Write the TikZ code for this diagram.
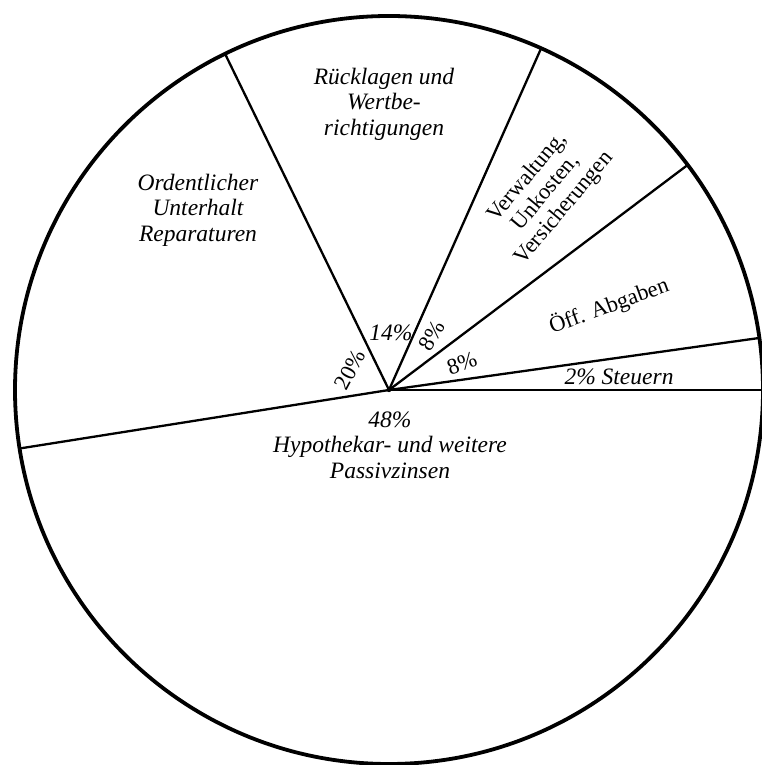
\documentclass[tikz,border=0pt]{standalone}
\usepackage{fontspec}
\setmainfont{Liberation Serif}
\begin{document}
\begin{tikzpicture}[x=1pt,y=1pt,
  rim/.style={circle,draw,line width=3.8pt,minimum size=748pt,inner sep=0pt,outer sep=0pt},
  spoke/.style={line width=2.3pt},
  lab/.style={font=\fontsize{23.5}{25.5}\selectfont\itshape,align=center,inner sep=0pt},
  labup/.style={font=\fontsize{22.5}{24}\selectfont,align=center,inner sep=0pt}]
\useasboundingbox (0,0) rectangle (762,765);
\node[rim] (pie) at (389,375) {};
\draw[spoke] (pie.center) -- (pie.0);
\draw[spoke] (pie.center) -- (pie.8);
\draw[spoke] (pie.center) -- (pie.37);
\draw[spoke] (pie.center) -- (pie.66);
\draw[spoke] (pie.center) -- (pie.116);
\draw[spoke] (pie.center) -- (pie.189);
\fill (pie.center) circle (2.2pt);
% labels
\node[lab] (rueck) at (384,661) {Rücklagen und\\Wertbe-\\richtigungen};
\node[lab] (ord) at (198,555) {Ordentlicher\\Unterhalt\\Reparaturen};
\node[labup,rotate=50] (verw) at (546,572) {Verwaltung,\\Unkosten,\\Versicherungen};
\node[labup,rotate=20] (oeff) at (609,459) {Öff. Abgaben};
\node[lab] (steu) at (619,388) {2\% Steuern};
\node[lab] (hyp) at (390,320) {48\%\\Hypothekar- und weitere\\Passivzinsen};
\node[lab] (p14) at (391,432) {14\%};
\node[labup,rotate=60] (p8a) at (432,429) {8\%};
\node[labup,rotate=20] (p8b) at (462,402) {8\%};
\node[labup,rotate=62] (p20) at (350,395) {20\%};
\end{tikzpicture}
\end{document}
